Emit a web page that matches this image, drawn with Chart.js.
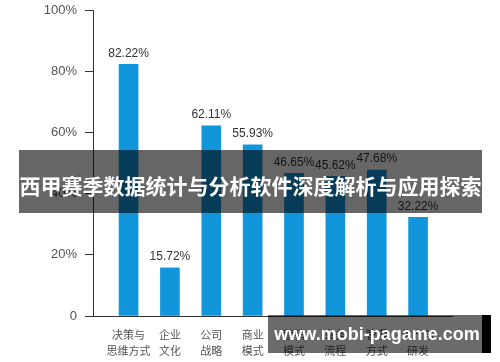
<!DOCTYPE html>
<html>
<head>
<meta charset="utf-8">
<script src="https://cdn.jsdelivr.net/npm/chart.js@4"></script>
<style>
  html, body { margin: 0; padding: 0; background: #fff; }
  #wrap { position: relative; width: 500px; height: 362px; overflow: hidden; }
  #c { position: absolute; left: 0; top: 0; }
  .banner { position: absolute; left: 19px; top: 150px; width: 463px; height: 63px;
    background: rgba(0,0,0,0.6); color: #fff; font: bold 21px "Noto Sans CJK SC", sans-serif;
    display: flex; align-items: center; justify-content: center; padding-top: 6px; box-sizing: border-box; white-space: nowrap; }
  .wm { position: absolute; left: 268px; top: 315px; width: 214px; height: 38px;
    background: rgba(0,0,0,0.58); color: #fff; font: bold 18px "Liberation Sans", Arial, sans-serif;
    display: flex; align-items: center; justify-content: center; white-space: nowrap; padding-left: 4px; box-sizing: border-box; }
  .wmb { position: absolute; left: 482px; top: 315px; width: 9px; height: 38px; background: #000; }
</style>
</head>
<body>
<div id="wrap">
  <canvas id="c" width="500" height="362"></canvas>
  <div class="banner">西甲赛季数据统计与分析软件深度解析与应用探索</div>
  <div class="wm">www.mobi-pagame.com</div>
  <div class="wmb"></div>
</div>
<script>
const categories = [
  ["决策与", "思维方式"],
  ["企业", "文化"],
  ["公司", "战略"],
  ["商业", "模式"],
  ["营销", "模式"],
  ["业务", "流程"],
  ["管理", "方式"],
  ["生产与", "研发"]
];
const values = [82.22, 15.72, 62.11, 55.93, 46.65, 45.62, 47.68, 32.22];
const yTickValues = [0, 20, 40, 60, 80, 100];

const valueLabels = {
  id: 'valueLabels',
  afterDatasetsDraw(chart) {
    const ctx = chart.ctx;
    const meta = chart.getDatasetMeta(0);
    ctx.save();
    ctx.font = '12px "Liberation Sans", Arial, sans-serif';
    ctx.fillStyle = '#333';
    ctx.textAlign = 'center';
    ctx.textBaseline = 'bottom';
    meta.data.forEach((el, i) => {
      ctx.fillText(values[i].toFixed(2) + '%', el.x, el.y - 5);
    });
    ctx.restore();
  }
};

new Chart(document.getElementById('c'), {
  type: 'bar',
  data: {
    datasets: [{
      data: values.map((v, i) => ({ x: i, y: v })),
      backgroundColor: '#1296db',
      borderWidth: 0,
      barThickness: 19
    }]
  },
  options: {
    responsive: false,
    animation: false,
    events: [],
    layout: { autoPadding: false, padding: { top: 10, right: 48, left: 0, bottom: 0 } },
    plugins: { legend: { display: false }, tooltip: { enabled: false } },
    scales: {
      x: {
        type: 'linear',
        offset: false,
        min: -0.86,
        max: 7.82,
        afterBuildTicks(scale) { scale.ticks = categories.map((_, i) => ({ value: i })); },
        afterFit(scale) { scale.height = 46; scale.paddingLeft = 0; scale.paddingRight = 0; },
        grid: { display: false, drawTicks: false, offset: false },
        border: { display: true, color: '#333', width: 1 },
        ticks: {
          autoSkip: false, maxRotation: 0, minRotation: 0, padding: 11,
          color: '#555',
          font: { size: 11, family: '"Noto Sans CJK SC", sans-serif', lineHeight: 1.45 },
          callback: (v) => categories[v]
        }
      },
      y: {
        min: 0, max: 100,
        afterBuildTicks(scale) { scale.ticks = yTickValues.map(v => ({ value: v })); },
        afterFit(scale) { scale.width = 93; scale.paddingTop = 0; scale.paddingBottom = 0; },
        grid: { drawOnChartArea: false, drawTicks: true, tickLength: 8, color: '#333' },
        border: { display: true, color: '#333', width: 1 },
        ticks: {
          padding: 8, color: '#555',
          font: { size: 13, family: '"Liberation Sans", Arial, sans-serif' },
          callback: (v) => v === 0 ? '0' : v + '%'
        }
      }
    }
  },
  plugins: [valueLabels]
});
</script>
</body>
</html>
